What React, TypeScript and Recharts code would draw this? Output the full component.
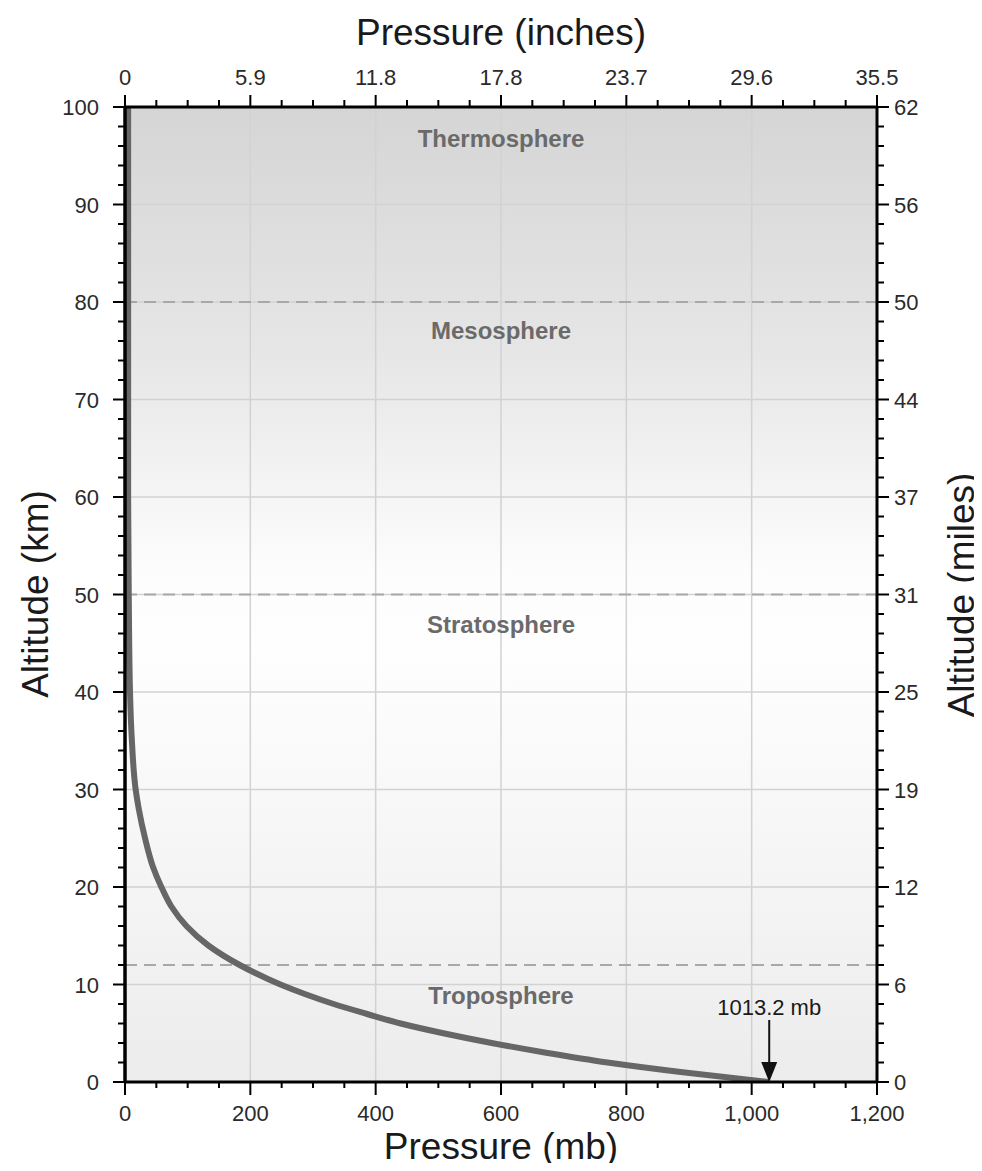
import React from "react";
import {
  LineChart,
  Line,
  XAxis,
  YAxis,
  ReferenceLine,
  ReferenceArea,
  ReferenceDot,
} from "recharts";

// ---- data ----
const altitudesKm = [0, 1, 2, 3, 4, 5, 6, 7, 8, 9, 10, 12, 14, 16, 18, 20, 22, 25, 28, 30, 35, 40, 50, 60, 70, 80, 90, 100];
const pressuresMb = [1028, 890, 770, 672, 585, 508, 440, 385, 333, 288, 248, 183, 133, 98, 74, 58, 45, 32, 22, 17, 11, 8, 6, 5, 5, 5, 5, 5];

const mbMajorTicks = [0, 200, 400, 600, 800, 1000, 1200];
const mbTickLabels = ["0", "200", "400", "600", "800", "1,000", "1,200"];
const inchTickLabels = ["0", "5.9", "11.8", "17.8", "23.7", "29.6", "35.5"];
const kmMajorTicks = [0, 10, 20, 30, 40, 50, 60, 70, 80, 90, 100];
const kmTickLabels = ["0", "10", "20", "30", "40", "50", "60", "70", "80", "90", "100"];
const mileTickLabels = ["0", "6", "12", "19", "25", "31", "37", "44", "50", "56", "62"];

const layerBoundariesKm = [12, 50, 80];
const layerNames = ["Troposphere", "Stratosphere", "Mesosphere", "Thermosphere"];
const layerLabelAltKm = [8.9, 46.9, 77.1, 96.8];
const layerLabelPressure = 600;

const surfaceLabel = "1013.2 mb";

const data = altitudesKm.map((alt, i) => ({ alt, p: pressuresMb[i] }));

// minor tick positions
const mbMinorStep = 50;
const kmMinorStep = 2;
const mbAllTicks: number[] = [];
for (let v = 0; v <= 1200; v += mbMinorStep) mbAllTicks.push(v);
const kmAllTicks: number[] = [];
for (let v = 0; v <= 100; v += kmMinorStep) kmAllTicks.push(v);

const FONT = "'Liberation Sans', Arial, Helvetica, sans-serif";
const TICK_COLOR = "#2a2a2a";
const TICK_FS = 22;

const BottomTick = (props: any) => {
  const { x, y, payload } = props;
  const v = payload.value;
  const idx = mbMajorTicks.indexOf(v);
  const major = idx >= 0;
  return (
    <g>
      <line x1={x} x2={x} y1={y} y2={y + (major ? 13 : 6)} stroke="#000" strokeWidth={2} />
      {major && (
        <text x={x} y={y + 39} textAnchor="middle" fontSize={TICK_FS} fill={TICK_COLOR} fontFamily={FONT}>
          {mbTickLabels[idx]}
        </text>
      )}
    </g>
  );
};

const TopTick = (props: any) => {
  const { x, y, payload } = props;
  const v = payload.value;
  const idx = mbMajorTicks.indexOf(v);
  const major = idx >= 0;
  return (
    <g>
      <line x1={x} x2={x} y1={y} y2={y - (major ? 12 : 7)} stroke="#000" strokeWidth={2} />
      {major && (
        <text x={x} y={y - 22} textAnchor="middle" fontSize={TICK_FS} fill={TICK_COLOR} fontFamily={FONT}>
          {inchTickLabels[idx]}
        </text>
      )}
    </g>
  );
};

const LeftTick = (props: any) => {
  const { x, y, payload } = props;
  const v = payload.value;
  const idx = kmMajorTicks.indexOf(v);
  const major = idx >= 0;
  return (
    <g>
      <line x1={x} x2={x - (major ? 12 : 7)} y1={y} y2={y} stroke="#000" strokeWidth={2} />
      {major && (
        <text x={x - 26} y={y + 8} textAnchor="end" fontSize={TICK_FS} fill={TICK_COLOR} fontFamily={FONT}>
          {kmTickLabels[idx]}
        </text>
      )}
    </g>
  );
};

const RightTick = (props: any) => {
  const { x, y, payload } = props;
  const v = payload.value;
  const idx = kmMajorTicks.indexOf(v);
  const major = idx >= 0;
  return (
    <g>
      <line x1={x} x2={x + (major ? 12 : 7)} y1={y} y2={y} stroke="#000" strokeWidth={2} />
      {major && (
        <text x={x + 17} y={y + 8} textAnchor="start" fontSize={TICK_FS} fill={TICK_COLOR} fontFamily={FONT}>
          {mileTickLabels[idx]}
        </text>
      )}
    </g>
  );
};

const LayerLabel = (name: string) => (p: any) => (
  <text
    x={p.cx}
    y={p.cy}
    textAnchor="middle"
    dominantBaseline="central"
    fontSize={24}
    fontWeight="bold"
    fill="#6a6a6a"
    fontFamily={FONT}
  >
    {name}
  </text>
);

const SurfaceArrow = (p: any) => {
  const { cx, cy } = p;
  return (
    <g>
      <text x={cx} y={cy - 67} textAnchor="middle" fontSize={22} fill="#1a1a1a" fontFamily={FONT}>
        {surfaceLabel}
      </text>
      <line x1={cx} x2={cx} y1={cy - 62} y2={cy - 18} stroke="#111" strokeWidth={2} />
      <path d={`M ${cx - 8} ${cy - 20} L ${cx + 8} ${cy - 20} L ${cx} ${cy} Z`} fill="#111" />
    </g>
  );
};

const W = 966;
const H = 1155;

const titleStyle: React.CSSProperties = {
  position: "absolute",
  fontFamily: FONT,
  fontSize: 37,
  lineHeight: 1,
  color: "#1a1a1a",
  whiteSpace: "nowrap",
};

export default function App() {
  return (
    <div style={{ position: "relative", width: W, height: H, fontFamily: FONT }}>
      <LineChart width={W} height={H} data={data} margin={{ top: 39, right: 37, bottom: 21, left: 37 }}>
        <defs>
          <linearGradient id="bgGrad" x1="0" y1="0" x2="0" y2="1">
            <stop offset="0%" stopColor="#d5d5d5" />
            <stop offset="25%" stopColor="#e6e6e6" />
            <stop offset="48%" stopColor="#fdfdfd" />
            <stop offset="56%" stopColor="#fefefe" />
            <stop offset="100%" stopColor="#ececec" />
          </linearGradient>
        </defs>
        <XAxis
          dataKey="p"
          type="number"
          domain={[0, 1200]}
          ticks={mbAllTicks}
          interval={0}
          tickSize={0}
          tickMargin={0}
          tick={<BottomTick />}
          tickLine={false}
          axisLine={{ stroke: "#000", strokeWidth: 3 }}
          height={60}
          allowDataOverflow
        />
        <XAxis
          xAxisId="top"
          orientation="top"
          dataKey="p"
          type="number"
          domain={[0, 1200]}
          ticks={mbAllTicks}
          interval={0}
          tickSize={0}
          tickMargin={0}
          tick={<TopTick />}
          tickLine={false}
          axisLine={{ stroke: "#000", strokeWidth: 3 }}
          height={60}
          allowDataOverflow
        />
        <YAxis
          type="number"
          domain={[0, 100]}
          ticks={kmAllTicks}
          interval={0}
          tickSize={0}
          tickMargin={0}
          tick={<LeftTick />}
          tickLine={false}
          axisLine={{ stroke: "#000", strokeWidth: 3.5 }}
          width={80}
          allowDataOverflow
        />
        <YAxis
          yAxisId="right"
          orientation="right"
          type="number"
          domain={[0, 100]}
          ticks={kmAllTicks}
          interval={0}
          tickSize={0}
          tickMargin={0}
          tick={<RightTick />}
          tickLine={false}
          axisLine={{ stroke: "#000", strokeWidth: 3 }}
          width={60}
          allowDataOverflow
        />
        <ReferenceArea x1={0} x2={1200} y1={0} y2={100} fill="url(#bgGrad)" fillOpacity={1} stroke="none" />
        {mbMajorTicks.slice(1, -1).map((v) => (
          <ReferenceLine key={"gx" + v} x={v} stroke="#d2d2d2" strokeWidth={1.5} />
        ))}
        {kmMajorTicks.slice(1, -1).map((v) => (
          <ReferenceLine key={"gy" + v} y={v} stroke="#d2d2d2" strokeWidth={1.5} />
        ))}
        {layerBoundariesKm.map((v) => (
          <ReferenceLine key={"lb" + v} y={v} stroke="#a8a8a8" strokeWidth={2} strokeDasharray="12 7" />
        ))}
        <Line
          dataKey="alt"
          type="monotoneY"
          stroke="#666666"
          strokeWidth={6}
          dot={false}
          activeDot={false}
          isAnimationActive={false}
        />
        <Line
          xAxisId="top"
          yAxisId="right"
          dataKey="alt"
          stroke="none"
          dot={false}
          activeDot={false}
          legendType="none"
          isAnimationActive={false}
        />
        {layerNames.map((name, i) => (
          <ReferenceDot
            key={name}
            x={layerLabelPressure}
            y={layerLabelAltKm[i]}
            r={0}
            shape={LayerLabel(name)}
          />
        ))}
        <ReferenceDot x={pressuresMb[0]} y={0} r={0} shape={SurfaceArrow} />
      </LineChart>
      <div style={{ ...titleStyle, left: 493, top: 24, transform: "translate(-50%, -50%)" }}>Pressure (inches)</div>
      <div style={{ ...titleStyle, left: 493, top: 1138, transform: "translate(-50%, -50%)" }}>Pressure (mb)</div>
      <div style={{ ...titleStyle, left: 27, top: 586, transform: "translate(-50%, -50%) rotate(-90deg)" }}>Altitude (km)</div>
      <div style={{ ...titleStyle, left: 953, top: 587, transform: "translate(-50%, -50%) rotate(-90deg)" }}>Altitude (miles)</div>
    </div>
  );
}
